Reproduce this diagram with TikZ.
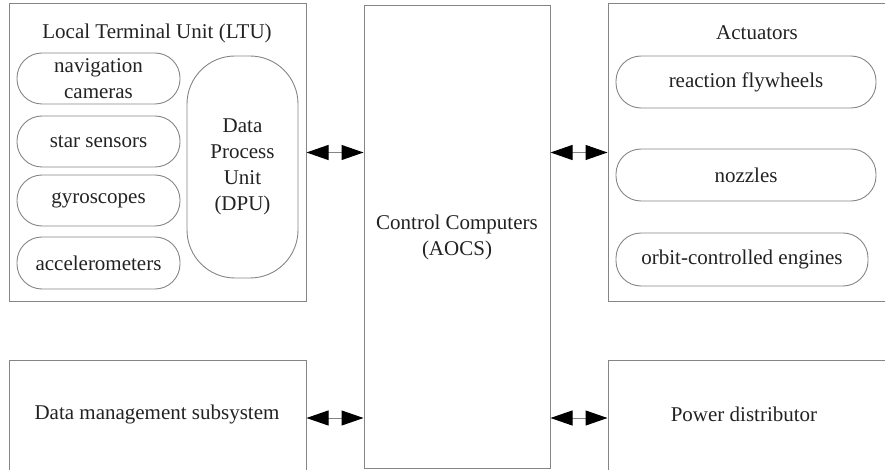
\documentclass[tikz,border=0pt]{standalone}
\usepackage{fontspec}
\setmainfont{Liberation Serif}
\usetikzlibrary{arrows.meta}
\definecolor{linegray}{HTML}{858585}
\definecolor{inkdark}{HTML}{222222}
\begin{document}
\begin{tikzpicture}[x=1pt,y=-1pt,
  every node/.style={font=\fontsize{21}{26}\selectfont, text=inkdark},
  frame/.style={draw=linegray, line width=1pt, inner sep=0pt, minimum width=#1},
  pill/.style={draw=linegray, line width=0.9pt, rounded corners=25pt, align=center, inner sep=0pt},
  caption/.style={align=center, inner sep=0pt},
  link/.style={draw=linegray, line width=1pt,
    {Triangle[length=22pt,width=15pt,black]}-{Triangle[length=22pt,width=15pt,black]}}]
\useasboundingbox (0,0) rectangle (885,470);
\begin{scope}
\clip (0,0) rectangle (885,470);

% Local Terminal Unit with its sensors and data process unit
\node[frame=297pt, minimum height=297pt] (ltu) at (157.5,152.5) {};
\node[caption] (ltutitle) at (157,33) {Local Terminal Unit (LTU)};
\node[pill, minimum width=163pt, minimum height=51pt] (nav) at (98.5,78.5) {navigation\\cameras};
\node[pill, minimum width=163pt, minimum height=51pt] (star) at (98.5,141.5) {star sensors};
\node[pill, minimum width=163pt, minimum height=51pt] (gyro) at (98.5,200.5) {gyroscopes};
\node[pill, minimum width=163pt, minimum height=52pt] (accel) at (98.5,263) {accelerometers};
\node[pill, rounded corners=48pt, minimum width=111pt, minimum height=222pt] (dpu) at (242.5,167) {Data\\Process\\Unit\\(DPU)};

% Central control computers
\node[frame=186pt, minimum height=462pt, caption] (ctrl) at (457,237) {Control Computers\\(AOCS)};

% Actuators
\node[frame=282pt, minimum height=297pt] (act) at (749,152.5) {};
\node[caption] (acttitle) at (757,33) {Actuators};
\node[pill, minimum width=260pt, minimum height=52pt] (wheels) at (746,82) {reaction flywheels};
\node[pill, minimum width=260pt, minimum height=52pt] (nozzles) at (746,175) {nozzles};
\node[pill, minimum width=252pt, minimum height=53pt] (engines) at (742,259.5) {orbit-controlled engines};

% Lower subsystems
\node[frame=297pt, minimum height=116pt] (dm) at (157.5,418) {};
\node[caption] (dmtext) at (157,414) {Data management subsystem};
\node[frame=282pt, minimum height=116pt] (pwr) at (749,418) {};
\node[caption] (pwrtext) at (744,414) {Power distributor};

% Bidirectional links to the control computers
\draw[link] (ltu.east) -- (ltu.east -| ctrl.west);
\draw[link] (ctrl.east |- act.west) -- (act.west);
\draw[link] (dm.east) -- (dm.east -| ctrl.west);
\draw[link] (ctrl.east |- pwr.west) -- (pwr.west);
\end{scope}
\end{tikzpicture}
\end{document}
